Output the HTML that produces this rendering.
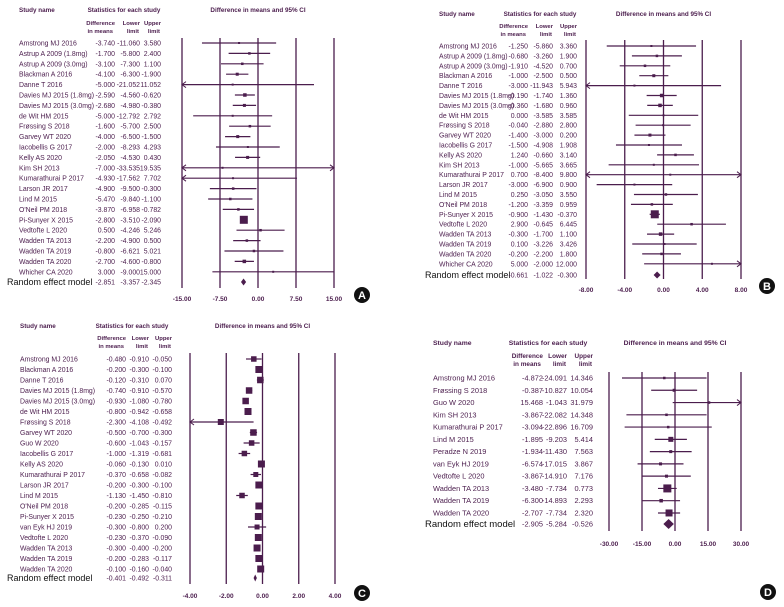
<!DOCTYPE html>
<html><head><meta charset="utf-8"><style>
html,body{margin:0;padding:0;background:#fff}
svg{display:block;font-family:"Liberation Sans",sans-serif}
</style></head><body>
<svg id="chart" width="784" height="607" viewBox="0 0 784 607"></svg>
<script>
const aNames=["Amstrong MJ 2016","Astrup A 2009 (1.8mg)","Astrup A 2009 (3.0mg)","Blackman A 2016","Danne T 2016","Davies MJ 2015 (1.8mg)","Davies MJ 2015 (3.0mg)","de Wit HM 2015","Frøssing S 2018","Garvey WT 2020","Iacobellis G 2017","Kelly AS 2020","Kim SH 2013","Kumarathurai P 2017","Larson JR 2017","Lind M 2015","O'Neil PM 2018","Pi-Sunyer X 2015","Vedtofte L 2020","Wadden TA 2013","Wadden TA 2019","Wadden TA 2020","Whicher CA 2020"];
const aMean=[-3.74,-1.7,-3.1,-4.1,-5,-2.59,-2.68,-5,-1.6,-4,-2,-2.05,-7,-4.93,-4.9,-5.47,-3.87,-2.8,0.5,-2.2,-0.8,-2.7,3];
const aLow=[-11.06,-5.8,-7.3,-6.3,-21.052,-4.56,-4.98,-12.792,-5.7,-6.5,-8.293,-4.53,-33.535,-17.562,-9.5,-9.84,-6.958,-3.51,-4.246,-4.9,-6.621,-4.6,-9];
const aUp=[3.58,2.4,1.1,-1.9,11.052,-0.62,-0.38,2.792,2.5,-1.5,4.293,0.43,19.535,7.702,-0.3,-1.1,-0.782,-2.09,5.246,0.5,5.021,-0.8,15];
const aWeight=[2,2.5,2.5,3,2,3.5,3,2,2.5,3,2,3,2,2,2.5,2.5,2.5,8,2.5,2.5,2.5,3.5,2];
const aPooled=[-2.851,-3.357,-2.345];
const aTicks=[-15,-7.5,0,7.5,15];

const bNames=aNames.slice();
const bMean=[-1.25,-0.68,-1.91,-1,-3,-0.19,-0.36,0,-0.04,-1.4,-1.5,1.24,-1,0.7,-3,0.25,-1.2,-0.9,2.9,-0.3,0.1,-0.2,5];
const bLow=[-5.86,-3.26,-4.52,-2.5,-11.943,-1.74,-1.68,-3.585,-2.88,-3,-4.908,-0.66,-5.665,-8.4,-6.9,-3.05,-3.359,-1.43,-0.645,-1.7,-3.226,-2.2,-2];
const bUp=[3.36,1.9,0.7,0.5,5.943,1.36,0.96,3.585,2.8,0.2,1.908,3.14,3.665,9.8,0.9,3.55,0.959,-0.37,6.445,1.1,3.426,1.8,12];
const bWeight=[2,2.5,2.5,3,2,3.5,3.5,2,2,3,2,2.5,2,2,2,2.5,2.5,8,2.5,3.5,2,2.5,2];
const bPooled=[-0.661,-1.022,-0.3];
const bTicks=[-8,-4,0,4,8];

const cNames=["Amstrong MJ 2016","Blackman A 2016","Danne T 2016","Davies MJ 2015 (1.8mg)","Davies MJ 2015 (3.0mg)","de Wit HM 2015","Frøssing S 2018","Garvey WT 2020","Guo W 2020","Iacobellis G 2017","Kelly AS 2020","Kumarathurai P 2017","Larson JR 2017","Lind M 2015","O'Neil PM 2018","Pi-Sunyer X 2015","van Eyk HJ 2019","Vedtofte L 2020","Wadden TA 2013","Wadden TA 2019","Wadden TA 2020"];
const cMean=[-0.48,-0.2,-0.12,-0.74,-0.93,-0.8,-2.3,-0.5,-0.6,-1,-0.06,-0.37,-0.2,-1.13,-0.2,-0.23,-0.3,-0.23,-0.3,-0.2,-0.1];
const cLow=[-0.91,-0.3,-0.31,-0.91,-1.08,-0.942,-4.108,-0.7,-1.043,-1.319,-0.13,-0.658,-0.3,-1.45,-0.285,-0.25,-0.8,-0.37,-0.4,-0.283,-0.16];
const cUp=[-0.05,-0.1,0.07,-0.57,-0.78,-0.658,-0.492,-0.3,-0.157,-0.681,0.01,-0.082,-0.1,-0.81,-0.115,-0.21,0.2,-0.09,-0.2,-0.117,-0.04];
const cWeight=[5.5,7,6.5,6.5,6.5,7,6,6.5,5.5,5.5,7,5,7,5.5,7,7,5,7,7,7,7];
const cPooled=[-0.401,-0.492,-0.311];
const cTicks=[-4,-2,0,2,4];

const dNames=["Amstrong MJ 2016","Frøssing S 2018","Guo W 2020","Kim SH 2013","Kumarathurai P 2017","Lind M 2015","Peradze N 2019","van Eyk HJ 2019","Vedtofte L 2020","Wadden TA 2013","Wadden TA 2019","Wadden TA 2020"];
const dMean=[-4.872,-0.387,15.468,-3.867,-3.094,-1.895,-1.934,-6.574,-3.867,-3.48,-6.3,-2.707];
const dLow=[-24.091,-10.827,-1.043,-22.082,-22.896,-9.203,-11.43,-17.015,-14.91,-7.734,-14.893,-7.734];
const dUp=[14.346,10.054,31.979,14.348,16.709,5.414,7.563,3.867,7.176,0.773,2.293,2.32];
const dWeight=[2.5,3,2.5,2.5,2.5,5,3,3,3,8,3.5,7];
const dPooled=[-2.905,-5.284,-0.526];
const dTicks=[-30,-15,0,15,30];

const NS="http://www.w3.org/2000/svg";
const svg=document.getElementById('chart');
const COL="#4b1d4d";
function mk(tag,attrs,parent){const e=document.createElementNS(NS,tag);for(const k in attrs)e.setAttribute(k,attrs[k]);(parent||svg).appendChild(e);return e;}
function txt(x,y,s,size,anchor,weight,parent,fill){const t=mk('text',{x:x,y:y,'font-size':size,'text-anchor':anchor||'start','font-weight':weight||'normal',fill:fill||COL},parent);t.textContent=s;return t;}

function panel(p){
  const g=mk('g',{});
  
  
  const xs=v=>p.x0+(v-p.ticks[0])/(p.ticks[p.ticks.length-1]-p.ticks[0])*(p.x1-p.x0);
  const ys=i=>p.rowY0+i*p.step;
  const lo=p.ticks[0],hi=p.ticks[p.ticks.length-1];
  const fs=p.fs, hs=p.fs-0.6;
  let t=txt(p.nameX,p.hy,'Study name',hs,'start','bold',g);
  
  t=txt(p.statsX,p.hy,'Statistics for each study',hs,'middle','bold',g);
  
  t=txt((p.x0+p.x1)/2,p.hy,'Difference in means and 95% CI',hs,'middle','bold',g);
  
  const sub=[["Difference","in means",p.c1],["Lower","limit",p.c2],["Upper","limit",p.c3]];
  sub.forEach(s=>{txt(s[2],p.sy,s[0],hs-0.4,'end','bold',g);txt(s[2]-(s[0]=="Difference"?2:1),p.sy+8,s[1],hs-0.4,'end','bold',g);});
  p.ticks.forEach(v=>{
    const l=mk('line',{x1:xs(v),x2:xs(v),y1:p.ly0,y2:p.ly1,stroke:COL,'stroke-width':1.3},g);
    
    const tt=txt(xs(v),p.ty,v.toFixed(2),6.5,'middle','bold',g);
    
  });
  p.names.forEach((n,i)=>{
    const y=ys(i);
    const nt=txt(p.nameX,y+2.5,n,fs,'start','normal',g);
    
    txt(p.c1,y+2.5,p.mean[i].toFixed(3),fs,'end','normal',g);
    txt(p.c2,y+2.5,p.low[i].toFixed(3),fs,'end','normal',g);
    txt(p.c3,y+2.5,p.up[i].toFixed(3),fs,'end','normal',g);
    const a=Math.max(p.low[i],lo),b=Math.min(p.up[i],hi);
    const ci=mk('line',{x1:xs(a),x2:xs(b),y1:y,y2:y,stroke:COL,'stroke-width':1.2},g);
    
    if(p.low[i]<lo){mk('path',{d:`M${xs(lo)+4},${y-3}L${xs(lo)},${y}L${xs(lo)+4},${y+3}`,fill:'none',stroke:COL,'stroke-width':1},g);}
    if(p.up[i]>hi){mk('path',{d:`M${xs(hi)-4},${y-3}L${xs(hi)},${y}L${xs(hi)-4},${y+3}`,fill:'none',stroke:COL,'stroke-width':1},g);}
    const s=p.w[i];
    const sq=mk('rect',{x:xs(p.mean[i])-s/2,y:y-s/2,width:s,height:s,fill:COL},g);
    
  });
  const ry=p.ry;
  const rl=txt(p.rX,ry+3,'Random effect model',p.rfs,'start','normal',g,'#111');
  
  txt(p.c1,ry+2.5,p.pooled[0].toFixed(3),fs,'end','normal',g);
  txt(p.c2,ry+2.5,p.pooled[1].toFixed(3),fs,'end','normal',g);
  txt(p.c3,ry+2.5,p.pooled[2].toFixed(3),fs,'end','normal',g);
  const h=p.dh;
  const dm=mk('path',{d:`M${xs(p.pooled[1])},${ry}L${xs(p.pooled[0])},${ry-h}L${xs(p.pooled[2])},${ry}L${xs(p.pooled[0])},${ry+h}Z`,fill:COL},g);
  
  const c=mk('circle',{cx:p.lx,cy:p.lyy,r:8,fill:'#111'},g);
  
  txt(p.lx,p.lyy+4,p.id,11,'middle','bold',g,'#fff');
}

panel({id:'A',names:aNames,mean:aMean,low:aLow,up:aUp,w:aWeight,pooled:aPooled,ticks:aTicks,fs:6.9,rfs:9,
  x0:182,x1:334,rowY0:43,step:10.4,ry:282,ly0:38,ly1:288,ty:301,hy:12,sy:25,nameX:19,statsX:124,rX:7,
  c1:115,c2:140,c3:161,dh:3.5,lx:362,lyy:295});
panel({id:'B',names:bNames,mean:bMean,low:bLow,up:bUp,w:bWeight,pooled:bPooled,ticks:bTicks,fs:6.9,rfs:9,
  x0:586,x1:741,rowY0:46,step:9.9,ry:275,ly0:40,ly1:279,ty:292,hy:16,sy:28,nameX:439,statsX:540,rX:425,
  c1:528,c2:553,c3:577,dh:3.5,lx:767,lyy:286});
panel({id:'C',names:cNames,mean:cMean,low:cLow,up:cUp,w:cWeight,pooled:cPooled,ticks:cTicks,fs:6.9,rfs:9,
  x0:190,x1:335,rowY0:359,step:10.5,ry:578,ly0:353,ly1:584,ty:598,hy:328,sy:340,nameX:20,statsX:132,rX:7,
  c1:126,c2:149,c3:172,dh:3.5,lx:362,lyy:593});
panel({id:'D',names:dNames,mean:dMean,low:dLow,up:dUp,w:dWeight,pooled:dPooled,ticks:dTicks,fs:7.4,rfs:9.5,
  x0:609,x1:741,rowY0:378,step:12.27,ry:524,ly0:372,ly1:531,ty:546,hy:345,sy:358,nameX:433,statsX:548,rX:425,
  c1:543,c2:567,c3:593,dh:5,lx:768,lyy:592});
</script>
</body></html>
